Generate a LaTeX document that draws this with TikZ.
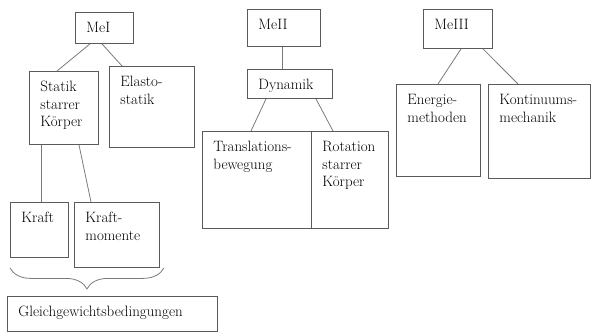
\documentclass[tikz,border=0pt]{standalone}
\usepackage{fontspec}
\usetikzlibrary{decorations.pathreplacing}
\definecolor{rahmen}{HTML}{5A5A5A}
\definecolor{linie}{HTML}{7A7A7A}
\newcommand{\kasten}[3]{\parbox[t][\dimexpr#2pt-16pt\relax][t]{\dimexpr#1pt-22pt\relax}{\raggedright\hyphenpenalty=10000 \exhyphenpenalty=10000 \strut#3}}
\tikzset{
  box/.style={draw=rahmen, line width=0.9pt, anchor=north west, inner xsep=11pt, inner ysep=8pt, font=\fontsize{15}{17.5}\selectfont},
  ast/.style={draw=linie, line width=0.8pt}
}
\begin{document}
\begin{tikzpicture}[x=1pt,y=-1pt]
\useasboundingbox (0,0) rectangle (592,332);
% MeI
\node[box] (mei) at (75,12) {\kasten{58}{31}{MeI}};
\node[box] (statik) at (29,71) {\kasten{69}{73}{Statik\\starrer\\Körper}};
\node[box] (elasto) at (109,66) {\kasten{85}{81}{Elasto-\\statik}};
\node[box] (kraft) at (10,202) {\kasten{58}{55}{Kraft}};
\node[box] (moment) at (74,202) {\kasten{85}{65}{Kraft-\\momente}};
\node[box] (gleich) at (7,296) {\kasten{210}{35}{Gleichgewichtsbedingungen}};
% MeII
\node[box] (meii) at (247,9) {\kasten{73}{37}{MeII}};
\node[box] (dynamik) at (247,69) {\kasten{85}{29}{Dynamik}};
\node[box] (trans) at (202,131) {\kasten{109}{97}{Translations-\\bewegung}};
\node[box] (rot) at (311,131) {\kasten{77}{97}{Rotation\\starrer\\Körper}};
% MeIII
\node[box] (meiii) at (423,9) {\kasten{69}{39}{MeIII}};
\node[box] (energie) at (396,84) {\kasten{84}{92}{Energie-\\methoden}};
\node[box] (kontinuum) at (488,84) {\kasten{102}{94}{Kontinuums-\\mechanik}};
% Verbindungen
\draw[ast] ([xshift=15pt]mei.south west) -- ([xshift=28pt]statik.north west);
\draw[ast] ([xshift=27pt]mei.south west) -- ([xshift=13pt]elasto.north west);
\draw[ast] ([xshift=12pt]statik.south west) -- ([xshift=31pt]kraft.north west);
\draw[ast] ([xshift=50pt]statik.south west) -- ([xshift=17pt]moment.north west);
\draw[ast] ([xshift=35pt]meii.south west) -- ([xshift=35pt]dynamik.north west);
\draw[ast] ([xshift=19pt]dynamik.south west) -- ([xshift=49pt]trans.north west);
\draw[ast] ([xshift=69pt]dynamik.south west) -- ([xshift=22pt]rot.north west);
\draw[ast] ([xshift=38pt]meiii.south west) -- ([xshift=42pt]energie.north west);
\draw[ast] ([xshift=60pt]meiii.south west) -- ([xshift=30pt]kontinuum.north west);
% Klammer
\draw[ast, decorate, decoration={brace, amplitude=21pt}] ([xshift=4pt]moment.south east) -- (kraft.south west |- moment.south);
\end{tikzpicture}
\end{document}
